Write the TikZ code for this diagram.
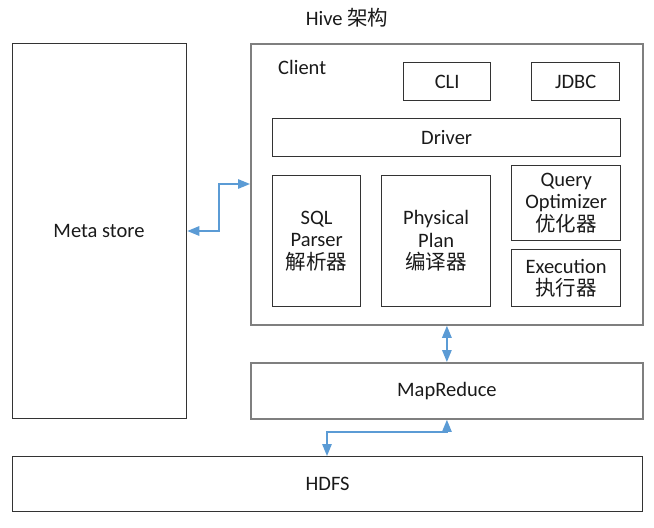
\documentclass[tikz,border=0pt]{standalone}
\usepackage{fontspec}
\setmainfont{Carlito}
\newfontfamily\cjk{Noto Sans CJK SC}
\usetikzlibrary{arrows.meta}
\definecolor{conncol}{HTML}{5B9BD5}
\definecolor{darkb}{HTML}{333333}
\definecolor{grayb}{HTML}{7F7F7F}
\definecolor{txt}{HTML}{1A1A1A}
\tikzset{
  box/.style={draw=darkb, line width=1.3pt, anchor=north west, inner sep=0pt, align=center, text=txt},
  gbox/.style={draw=grayb, line width=1.8pt, anchor=north west, inner sep=0pt, align=center, text=txt},
  conn/.style={draw=conncol, line width=1.4pt, {Triangle[length=12pt,width=9.5pt]}-{Triangle[length=12pt,width=9.5pt]}},
  lbl/.style={inner sep=0pt, text=txt}
}
\begin{document}
\begin{tikzpicture}[x=1pt,y=-1pt, font=\fontsize{20.5}{22.5}\selectfont]
\useasboundingbox (0,0) rectangle (654,528);
\node[lbl] (title) at (347,18) {Hive {\cjk 架构}};
% outer boxes
\node[box, minimum width=174pt, minimum height=375pt] (meta) at (12,43) {};
\node[lbl] (metatext) at (99,231) {Meta store};
\node[gbox, minimum width=392pt, minimum height=281pt] (client) at (250,43) {};
\node[lbl, anchor=west] (clienttext) at (278,67) {Client};
\node[box, minimum width=87pt, minimum height=38pt] (cli) at (403,62) {CLI};
\node[box, minimum width=88pt, minimum height=38pt] (jdbc) at (531,62) {JDBC};
\node[box, minimum width=348pt, minimum height=38pt] (driver) at (272,118) {Driver};
\node[box, minimum width=88pt, minimum height=131pt] (sql) at (272,175) {SQL\\Parser\\{\cjk 解析器}};
\node[box, minimum width=109pt, minimum height=131pt] (phys) at (381,175) {Physical\\Plan\\{\cjk 编译器}};
\node[box, minimum width=109pt, minimum height=75pt] (opt) at (511,165) {Query\\Optimizer\\{\cjk 优化器}};
\node[box, minimum width=109pt, minimum height=57pt] (exec) at (511,249) {Execution\\{\cjk 执行器}};
\node[gbox, minimum width=392pt, minimum height=56pt] (mr) at (250,362) {MapReduce};
\node[box, minimum width=630pt, minimum height=55pt] (hdfs) at (12,456) {HDFS};
% connectors
\coordinate (k1) at (219,231);
\coordinate (k2) at (327,432);
\draw[conn] (meta.east |- k1) -- (k1) |- (client.west |- 0,184);
\draw[conn] (client.south) -- (mr.north);
\draw[conn] (mr.south) |- (k2) -- (hdfs.north -| k2);
\end{tikzpicture}
\end{document}
